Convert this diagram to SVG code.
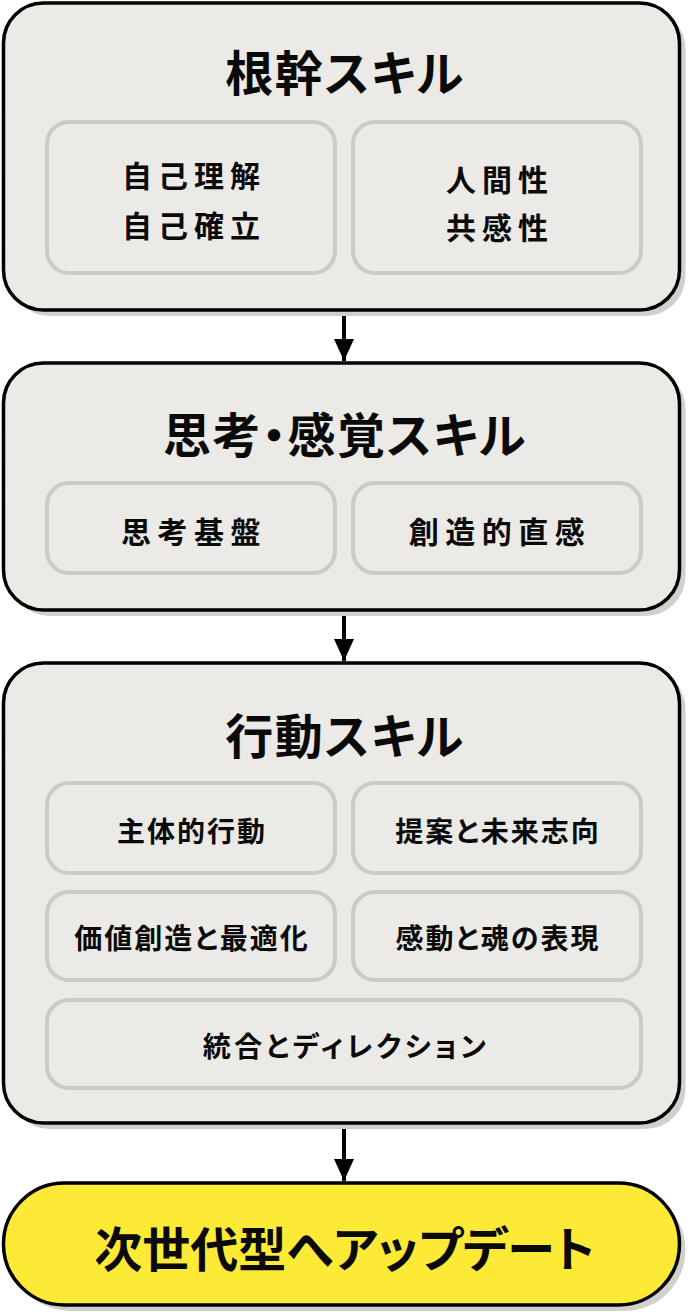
<svg xmlns="http://www.w3.org/2000/svg" width="690" height="1316" viewBox="0 0 690 1316">
<defs>
<style>
.shadow{fill:#d1d0cb}
.outer{fill:#ebeae6;stroke:#000;stroke-width:3.5}
.final{fill:#fcea36;stroke:#000;stroke-width:3.5}
.inner{fill:#ebeae6;stroke:#cbcac5;stroke-width:4}
text{font-family:"Noto Sans CJK JP","Noto Sans",sans-serif;font-weight:700;fill:#0a0a0a;text-anchor:middle;dominant-baseline:central;font-feature-settings:"palt" 1}
.title{font-size:48px;letter-spacing:1.5px}
.t1{font-size:30px;letter-spacing:6px}
.t2{font-size:30px;letter-spacing:6.5px}
.t3{font-size:28px;letter-spacing:2px}
.conn{stroke:#000;stroke-width:4;fill:none}
</style>
<marker id="ah" markerWidth="6" markerHeight="5" refX="5.5" refY="2.5" orient="auto" markerUnits="strokeWidth">
<path d="M0,0 L5.5,2.5 L0,5 Z" fill="#000"/>
</marker>
</defs>

<g id="connectors">
<line class="conn" x1="344" y1="311" x2="344" y2="361" marker-end="url(#ah)"/>
<line class="conn" x1="344" y1="611" x2="344" y2="661" marker-end="url(#ah)"/>
<line class="conn" x1="344" y1="1124" x2="344" y2="1181" marker-end="url(#ah)"/>
</g>

<g id="root-skills">
<rect class="shadow" x="9.5" y="9" width="676" height="307" rx="40"/>
<rect class="outer" x="3.5" y="3" width="676" height="307" rx="40"/>
<text class="title" x="345" y="70">根幹スキル</text>
<g id="self">
<rect class="inner" x="47" y="122" width="288" height="151" rx="22"/>
<text class="t1" x="194" y="174">自己理解</text>
<text class="t1" x="194" y="224">自己確立</text>
</g>
<g id="humanity">
<rect class="inner" x="353" y="122" width="288" height="151" rx="22"/>
<text class="t1" x="500" y="178">人間性</text>
<text class="t1" x="500" y="226">共感性</text>
</g>
</g>

<g id="thinking-skills">
<rect class="shadow" x="9.5" y="369" width="676" height="247" rx="40"/>
<rect class="outer" x="3.5" y="363" width="676" height="247" rx="40"/>
<text class="title" x="345" y="432">思考・感覚スキル</text>
<g id="thinking-base">
<rect class="inner" x="47" y="483" width="288" height="90" rx="22"/>
<text class="t2" x="194" y="530">思考基盤</text>
</g>
<g id="creative-intuition">
<rect class="inner" x="353" y="483" width="288" height="90" rx="22"/>
<text class="t2" x="500" y="530">創造的直感</text>
</g>
</g>

<g id="action-skills">
<rect class="shadow" x="9.5" y="669" width="676" height="460" rx="40"/>
<rect class="outer" x="3.5" y="663" width="676" height="460" rx="40"/>
<text class="title" x="345" y="733">行動スキル</text>
<g id="proactive">
<rect class="inner" x="47" y="783" width="288" height="90" rx="22"/>
<text class="t3" x="192" y="830">主体的行動</text>
</g>
<g id="proposal">
<rect class="inner" x="353" y="783" width="288" height="90" rx="22"/>
<text class="t3" x="498" y="830">提案と未来志向</text>
</g>
<g id="value">
<rect class="inner" x="47" y="892" width="288" height="88" rx="22"/>
<text class="t3" x="192" y="937">価値創造と最適化</text>
</g>
<g id="emotion">
<rect class="inner" x="353" y="892" width="288" height="88" rx="22"/>
<text class="t3" x="498" y="937">感動と魂の表現</text>
</g>
<g id="direction">
<rect class="inner" x="47" y="1000" width="594" height="88" rx="22"/>
<text class="t3" x="346" y="1045" style="letter-spacing:3.5px">統合とディレクション</text>
</g>
</g>

<g id="update">
<rect class="shadow" x="9.5" y="1189" width="676" height="122" rx="61"/>
<rect class="final" x="3.5" y="1183" width="676" height="122" rx="61"/>
<text class="title" x="344.5" y="1246" style="letter-spacing:0">次世代型へアップデート</text>
</g>
</svg>
